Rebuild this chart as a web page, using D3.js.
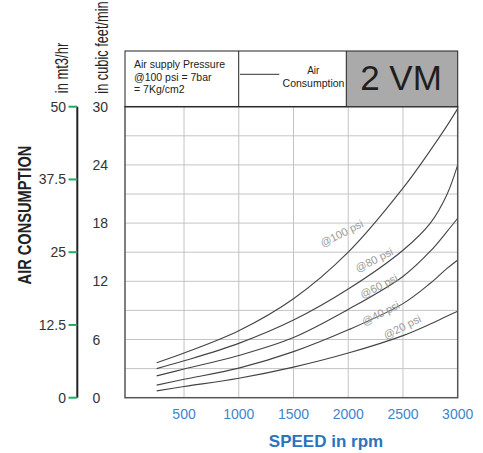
<!DOCTYPE html>
<html><head><meta charset="utf-8">
<script src="https://cdn.jsdelivr.net/npm/d3@7"></script>
<style>body{margin:0;background:#fff}svg{display:block}</style>
</head><body>
<script>
// ---- data ----
const rpm = [250, 500, 1000, 1500, 2000, 2500, 2750, 2900, 3000];
const psi100 = [3.6, 4.6, 6.9, 10.2, 15.0, 21.6, 25.5, 28.0, 29.8];
const psi80  = [3.0, 3.8, 5.6, 8.0, 11.2, 15.2, 18.0, 20.9, 24.0];
const psi60  = [2.25, 2.95, 4.35, 6.2, 9.1, 12.5, 15.1, 17.1, 18.5];
const psi40  = [1.3, 1.9, 3.05, 4.75, 7.0, 9.7, 11.8, 13.3, 14.2];
const psi20  = [0.7, 1.15, 2.0, 3.15, 4.6, 6.4, 7.6, 8.4, 8.9];
const seriesNames = ["@100 psi", "@80 psi", "@60 psi", "@40 psi", "@20 psi"];
const xTicks = [500, 1000, 1500, 2000, 2500, 3000];
const cfmTicks = [0, 6, 12, 18, 24, 30];
const m3Ticks = [0, 12.5, 25, 37.5, 50];
const m3TickLabels = ["0", "12.5", "25", "37.5", "50"];
// label anchor (rpm, cfm) for each series label
const labelRpm = [1940, 2237, 2280, 2296, 2493];
const labelCfm = [16.95, 14.2, 11.5, 8.7, 7.3];

const W = 483, H = 453;
const L = 125, R = 457.7, T = 106.7, B = 397.7;
const svg = d3.select("body").append("svg").attr("width", W).attr("height", H)
  .style("font-family", "Arial, 'Liberation Sans', sans-serif");

const x = d3.scaleLinear().domain([0, 3000]).range([129.3, R]);
const y = d3.scaleLinear().domain([0, 30]).range([B, T]);
const yM = d3.scaleLinear().domain([0, 50]).range([B, T]);

// grid
const g = svg.append("g");
g.selectAll(".vg").data(xTicks.filter(d => d < 3000)).enter().append("line")
  .attr("x1", d => x(d)).attr("x2", d => x(d)).attr("y1", T).attr("y2", B)
  .attr("stroke", "#c4c4c4").attr("stroke-width", 1);
g.selectAll(".hg").data(d3.range(3, 30, 3)).enter().append("line")
  .attr("x1", L).attr("x2", R).attr("y1", d => y(d)).attr("y2", d => y(d))
  .attr("stroke", "#c4c4c4").attr("stroke-width", 1);

// curves
const all = [psi100, psi80, psi60, psi40, psi20];
const line = d3.line().x((d, i) => x(rpm[i])).y(d => y(d)).curve(d3.curveCatmullRom.alpha(0.5));
svg.selectAll(".curve").data(all).enter().append("path")
  .attr("d", d => line(d)).attr("fill", "none").attr("stroke", "#444").attr("stroke-width", 1.1);

// series labels
svg.selectAll(".lbl").data(seriesNames).enter().append("text")
  .attr("transform", (d, i) => `translate(${x(labelRpm[i])},${y(labelCfm[i])}) rotate(-27)`)
  .attr("text-anchor", "middle").attr("dy", "0.35em")
  .attr("font-size", 11).attr("fill", "#9a9a9a").text(d => d);

// frame
svg.append("rect").attr("x", L).attr("y", T).attr("width", R - L).attr("height", B - T)
  .attr("fill", "none").attr("stroke", "#555").attr("stroke-width", 1.5);

// header table
const hTop = 51;
svg.append("rect").attr("x", 346.3).attr("y", hTop).attr("width", R - 346.3).attr("height", T - hTop)
  .attr("fill", "#aaaaaa");
svg.append("rect").attr("x", L).attr("y", hTop).attr("width", R - L).attr("height", T - hTop)
  .attr("fill", "none").attr("stroke", "#222").attr("stroke-width", 1);
[238.7, 346.3].forEach(xx => svg.append("line").attr("x1", xx).attr("x2", xx).attr("y1", hTop).attr("y2", T)
  .attr("stroke", "#222").attr("stroke-width", 1));
const t1 = svg.append("text").attr("font-size", 10.5).attr("fill", "#222");
[["Air supply Pressure", 67.7], ["@100 psi = 7bar", 80.7], ["= 7Kg/cm2", 93.3]].forEach(([s, yy]) =>
  t1.append("tspan").attr("x", 134).attr("y", yy).text(s));
svg.append("line").attr("x1", 240).attr("x2", 279.3).attr("y1", 74.3).attr("y2", 74.3)
  .attr("stroke", "#333").attr("stroke-width", 1);
svg.append("text").attr("x", 313.3).attr("y", 74.3).attr("text-anchor", "middle")
  .attr("font-size", 10).attr("fill", "#222").text("Air");
svg.append("text").attr("x", 313.5).attr("y", 86.7).attr("text-anchor", "middle")
  .attr("font-size", 10.5).attr("fill", "#222").text("Consumption");
svg.append("text").attr("x", 401).attr("y", 90).attr("text-anchor", "middle")
  .attr("font-size", 35).attr("fill", "#1e1e1e").text("2 VM");

// x axis labels
svg.selectAll(".xt").data(xTicks).enter().append("text")
  .attr("x", d => x(d)).attr("y", 419.3).attr("text-anchor", "middle")
  .attr("font-size", 14).attr("fill", "#3d86cc").text(d => d);
svg.append("text").attr("x", 326).attr("y", 446.5).attr("text-anchor", "middle")
  .attr("font-size", 17).attr("font-weight", "bold").attr("fill", "#2a73bf").text("SPEED in rpm");

// cfm axis labels
svg.selectAll(".ct").data(cfmTicks).enter().append("text")
  .attr("x", 92.5).attr("y", d => y(d)).attr("dy", "0.36em")
  .attr("font-size", 14).attr("fill", "#333").text(d => d);

// m3/hr axis
const ax = 77.3;
svg.append("line").attr("x1", ax).attr("x2", ax).attr("y1", yM(50)).attr("y2", yM(0))
  .attr("stroke", "#222").attr("stroke-width", 2);
svg.selectAll(".mt").data(m3Ticks).enter().append("line")
  .attr("x1", 68.5).attr("x2", ax).attr("y1", d => yM(d)).attr("y2", d => yM(d))
  .attr("stroke", "#22aa66").attr("stroke-width", 2);
svg.selectAll(".ml").data(m3Ticks).enter().append("text")
  .attr("x", 66).attr("y", d => yM(d)).attr("dy", "0.36em").attr("text-anchor", "end")
  .attr("font-size", 14).attr("fill", "#333").text((d, i) => m3TickLabels[i]);

// rotated titles
svg.append("text").attr("transform", "translate(67.8,68) rotate(-90) scale(0.72,1)")
  .attr("text-anchor", "middle").attr("font-size", 18).attr("fill", "#222").text("in mt3/hr");
svg.append("text").attr("transform", "translate(108,47.5) rotate(-90) scale(0.71,1)")
  .attr("text-anchor", "middle").attr("font-size", 18).attr("fill", "#222").text("in cubic feet/min");
svg.append("text").attr("transform", "translate(30.5,215) rotate(-90) scale(0.77,1)")
  .attr("text-anchor", "middle").attr("font-size", 19).attr("font-weight", "bold").attr("fill", "#222")
  .text("AIR CONSUMPTION");
</script>
</body></html>
